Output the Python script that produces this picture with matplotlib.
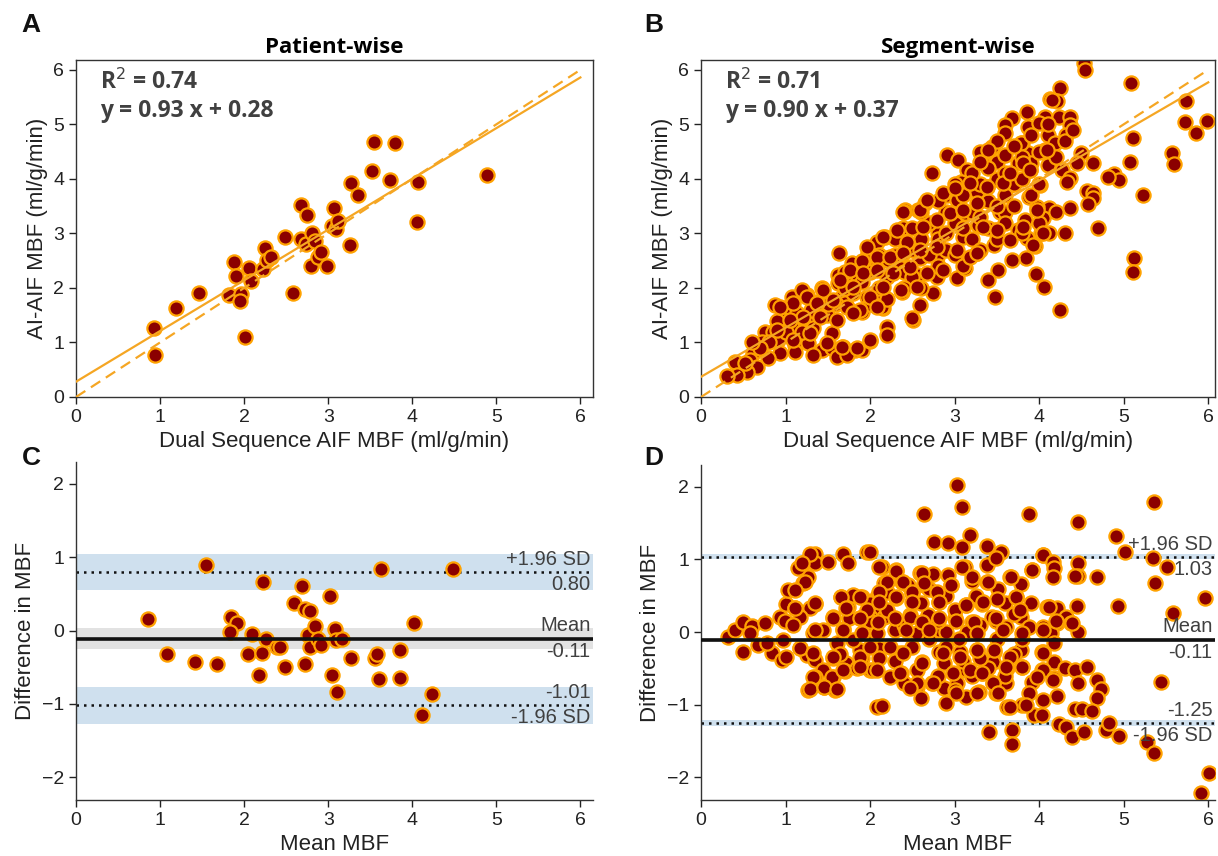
import matplotlib
matplotlib.use("Agg")
import matplotlib.pyplot as plt
import matplotlib.transforms as mtransforms
import numpy as np

# ---------------- DATA ----------------
# Panel A: patient-wise (Dual Sequence AIF MBF, AI-AIF MBF)
a_x = [0.93, 0.94, 1.19, 1.46, 1.82, 1.88, 1.90, 1.96, 1.95, 2.06, 2.08, 2.01, 2.22, 2.25,
       2.27, 2.32, 2.49, 2.58, 2.68, 2.68, 2.75, 2.74, 2.81, 2.84, 2.79, 2.88, 2.92, 2.99,
       3.04, 3.07, 3.09, 3.12, 3.26, 3.27, 3.36, 3.52, 3.55, 3.73, 3.80, 4.06, 4.07, 4.89]
a_y = [1.27, 0.77, 1.64, 1.91, 1.87, 2.48, 2.22, 1.88, 1.76, 2.37, 2.13, 1.10, 2.35, 2.74,
       2.51, 2.56, 2.94, 1.91, 3.52, 2.89, 3.33, 2.80, 3.01, 2.86, 2.41, 2.57, 2.65, 2.40,
       3.14, 3.46, 3.08, 3.23, 2.78, 3.93, 3.71, 4.15, 4.67, 3.98, 4.65, 3.21, 3.95, 4.07]

# Panel B: segment-wise
b_x = [4.53, 4.54, 5.09, 4.25, 4.13, 4.21, 5.74, 3.86, 4.07, 4.24, 4.36, 3.87, 4.00, 4.36,
       5.73, 5.98, 5.86, 4.11, 4.32, 5.11, 3.80, 4.19, 4.07, 3.87, 4.49, 5.57, 5.59, 4.64,
       5.07, 4.45, 4.11, 3.89, 4.27, 4.88, 4.95, 4.82, 4.37, 4.33, 4.01, 5.23, 4.57, 4.64,
       4.64, 4.58, 3.88, 4.36, 4.12, 3.98, 4.05, 3.83, 4.70, 4.02, 4.12, 3.86, 3.95, 3.85,
       5.12, 5.11, 3.96, 4.06, 4.25,
       4.15, 3.68, 3.60, 3.60, 2.91, 3.04, 3.40, 3.44, 3.33, 3.15, 3.50, 3.60, 3.78, 2.73,
       3.75, 3.07, 3.38, 3.66, 3.27, 2.91, 2.65, 2.41, 2.57, 3.03, 3.12, 3.54, 3.28, 3.60,
       2.63, 2.39, 2.18, 2.41, 2.80, 3.10, 3.48, 3.75, 3.46, 3.93, 3.68, 3.27, 3.03, 2.79,
       2.59, 2.21, 2.36, 2.57, 2.79, 3.03, 3.12, 3.51, 3.40, 3.48, 2.75, 2.59, 2.38, 2.51,
       2.20, 2.20, 2.15,
       2.40, 2.08, 1.98, 1.63, 1.79, 1.91, 2.08, 2.21, 1.62, 1.74, 1.86, 1.62, 1.43, 1.79,
       1.96, 2.12, 1.25, 1.38, 1.67, 1.70, 1.91, 2.14, 2.50, 0.88, 1.03, 1.08, 1.20, 1.14,
       0.97, 1.20, 1.35, 1.49, 0.76, 0.85, 1.08, 1.33, 1.55, 0.72, 0.91, 1.11, 1.27, 1.43,
       1.55, 1.68, 1.82, 1.91, 2.00, 1.61, 1.73, 1.33, 1.11, 0.93, 0.79, 0.62, 0.58, 0.40,
       0.66, 0.54, 0.43, 0.31, 0.52,
       2.30, 2.40, 2.50, 2.60, 2.70, 2.80, 2.90, 3.00, 3.10, 3.20, 3.30, 3.40, 3.50, 3.60,
       3.70, 3.80, 2.20, 2.00, 2.10, 1.90, 1.80, 1.70, 1.60, 1.50, 1.40, 1.30, 1.20, 1.00,
       0.90, 0.80, 0.70, 0.60, 2.50, 2.60, 2.80, 2.90, 3.00, 3.20, 3.30, 3.40, 3.60, 3.70,
       3.90, 3.90, 4.00, 3.50, 3.30, 3.10, 2.90, 2.70, 2.50, 2.30, 2.10, 1.90, 1.70, 2.60,
       2.80, 3.00, 3.20, 3.40, 3.60, 3.80, 4.00, 4.20, 4.30, 4.40, 4.10, 3.90, 3.70, 3.50,
       3.30, 2.40, 2.20, 2.00, 3.10, 3.50, 3.80, 4.00, 4.20, 4.30,
       3.30, 3.40, 2.39, 2.59, 2.67, 2.86, 3.01, 3.18, 3.38, 3.57, 3.66, 3.81, 3.89, 4.09,
       2.15, 2.32, 2.44, 2.63, 2.79, 2.95, 3.10, 3.27, 3.34, 3.50, 3.66, 3.81, 3.98, 4.05,
       1.96, 2.08, 2.24, 2.39, 2.59, 2.79, 3.03, 3.18, 3.27, 1.76, 1.92, 2.08, 2.27, 2.47,
       2.67, 2.86, 1.64, 1.80, 2.00, 2.15, 2.36, 2.56, 1.44, 1.25, 1.09, 0.93, 1.37, 1.56,
       1.73, 1.88, 2.08, 1.21, 1.05, 1.41, 1.61, 1.80, 0.90, 1.09, 1.29, 1.49, 1.67, 1.85,
       2.00]
b_y = [6.12, 6.00, 5.76, 5.67, 5.47, 5.43, 5.43, 5.23, 5.14, 5.14, 5.14, 4.95, 5.03, 4.99,
       5.05, 5.06, 4.84, 4.81, 4.81, 4.75, 4.66, 4.66, 4.53, 4.48, 4.48, 4.48, 4.28, 4.29,
       4.31, 4.29, 4.26, 4.17, 4.17, 4.09, 3.98, 4.04, 4.02, 3.95, 3.89, 3.71, 3.78, 3.74,
       3.65, 3.54, 3.67, 3.47, 3.47, 3.49, 3.28, 3.25, 3.10, 3.01, 3.01, 2.92, 2.77, 2.55,
       2.55, 2.29, 2.26, 2.02, 1.60,
       5.45, 5.12, 4.99, 4.84, 4.44, 4.35, 4.50, 4.59, 4.29, 4.17, 4.31, 4.44, 4.66, 4.11,
       4.29, 3.95, 3.85, 3.89, 3.76, 3.71, 3.56, 3.43, 3.43, 3.61, 3.38, 3.40, 3.16, 3.40,
       3.12, 3.10, 2.94, 2.84, 3.01, 2.94, 3.06, 3.06, 2.79, 2.79, 2.51, 2.64, 2.62, 2.57,
       2.55, 2.55, 2.37, 2.24, 2.20, 2.18, 2.37, 2.33, 2.15, 1.83, 1.91, 1.69, 1.93, 1.41,
       1.28, 1.14, 1.63,
       3.39, 2.84, 2.64, 2.64, 2.46, 2.39, 2.42, 2.51, 2.24, 2.24, 2.15, 2.09, 2.00, 2.02,
       1.83, 1.93, 1.87, 1.74, 1.83, 1.72, 1.56, 1.65, 1.45, 1.69, 1.65, 1.83, 1.96, 1.54,
       1.41, 1.41, 1.47, 1.50, 1.19, 1.19, 1.28, 1.27, 1.17, 1.01, 1.05, 0.95, 0.99, 0.86,
       0.90, 0.92, 0.86, 0.86, 1.03, 0.73, 0.77, 0.77, 0.83, 0.81, 0.72, 0.81, 0.68, 0.64,
       0.55, 0.46, 0.40, 0.39, 0.62,
       2.60, 2.30, 2.70, 2.90, 2.60, 2.90, 3.00, 3.20, 3.10, 3.40, 3.30, 3.60, 3.50, 3.70,
       3.90, 4.00, 2.20, 2.30, 2.00, 2.10, 1.90, 2.00, 1.70, 1.70, 1.50, 1.60, 1.20, 1.20,
       1.40, 1.00, 0.90, 1.00, 2.20, 2.00, 2.40, 2.70, 2.60, 2.90, 2.70, 3.10, 3.20, 3.50,
       3.70, 4.30, 4.50, 4.00, 3.90, 3.70, 3.40, 3.20, 3.10, 2.90, 2.60, 2.50, 2.30, 3.40,
       3.60, 3.90, 4.10, 4.20, 4.10, 4.40, 3.90, 4.40, 4.70, 4.90, 5.00, 4.80, 4.60, 4.70,
       4.50, 2.00, 1.80, 1.70, 2.40, 2.90, 3.00, 3.20, 3.40, 3.00,
       4.31, 4.53, 3.39, 3.43, 3.61, 3.74, 3.83, 3.92, 3.86, 3.92, 4.11, 4.29, 4.17, 4.53,
       2.94, 3.06, 2.84, 3.12, 3.25, 3.38, 3.43, 3.56, 3.12, 3.06, 2.88, 3.12, 3.43, 3.01,
       2.75, 2.57, 2.57, 2.64, 2.70, 2.75, 2.70, 2.57, 2.64, 2.33, 2.28, 2.33, 2.28, 2.39,
       2.28, 2.33, 2.15, 2.02, 1.83, 2.02, 1.96, 2.02, 1.96, 1.83, 1.72, 1.65, 1.72, 1.78,
       1.65, 1.60, 1.65, 1.47, 1.41, 1.47, 1.41, 1.54, 1.23, 1.05, 1.17, 0.99, 0.92, 0.90,
       1.05]

# Panel C: patient-wise Bland-Altman (mean, difference)
c_mean = [0.86, 1.08, 1.41, 1.68, 1.55, 1.84, 1.91, 1.83, 2.09, 2.05, 2.21, 2.18, 2.23, 2.26,
          2.39, 2.43, 2.49, 2.59, 2.69, 2.72, 2.78, 2.72, 2.76, 2.78, 2.84, 2.88, 2.91, 3.02,
          3.05, 3.08, 3.09, 3.10, 3.17, 3.27, 3.56, 3.58, 3.60, 3.63, 3.85, 3.85, 4.02, 4.11,
          4.24, 4.49]
c_diff = [0.16, -0.32, -0.43, -0.45, 0.89, 0.18, 0.11, -0.02, -0.04, -0.32, -0.30, -0.61, 0.67,
          -0.11, -0.23, -0.22, -0.49, 0.38, 0.61, 0.30, 0.27, -0.45, -0.06, -0.22, 0.06, -0.12,
          -0.20, 0.47, -0.61, 0.02, -0.13, -0.84, -0.12, -0.37, -0.37, -0.32, -0.66, 0.84,
          -0.26, -0.64, 0.10, -1.15, -0.86, 0.84]
c_stats = {"mean": -0.11, "upper": 0.80, "lower": -1.01}
c_bands = {"upper": (0.55, 1.05), "mean": (-0.25, 0.03), "lower": (-1.27, -0.77)}

# Panel D: segment-wise Bland-Altman
d_mean = [0.32, 0.40, 0.50, 0.60, 0.76, 0.50, 0.67, 0.84, 0.96, 1.01, 0.93, 0.99, 1.01, 1.11,
          1.03, 1.21, 1.26, 1.15, 1.23, 1.35, 1.35, 1.50, 1.68, 1.74, 1.96, 1.35, 1.29, 1.17,
          1.09, 1.17, 1.25, 1.35, 1.32, 1.44, 1.56, 1.66, 1.74, 1.80, 1.90, 1.88, 1.68, 1.61,
          1.56, 1.44, 1.35, 1.26, 1.46, 1.58, 1.56, 1.72, 1.70, 1.85, 1.88, 2.00, 2.08, 2.08,
          2.08, 1.80, 2.00, 0.97, 0.78, 0.58,
          3.03, 3.09, 2.64, 3.88, 2.76, 2.92, 3.18, 3.09, 3.38, 3.55, 4.04, 2.00, 2.14, 2.31,
          2.59, 2.74, 2.92, 3.12, 3.38, 3.49, 3.65, 3.91, 3.79, 3.73, 4.09, 3.79, 2.17, 2.38,
          2.64, 2.96, 3.20, 3.38, 3.51, 2.08, 2.31, 2.50, 2.82, 3.14, 3.32, 2.17, 2.47, 2.68,
          3.00, 3.21, 3.44, 3.49, 3.61, 3.88, 4.04, 2.29, 2.56, 2.82, 2.90, 3.15, 2.08, 2.11,
          2.35, 2.62, 2.82, 3.06, 3.26, 3.47, 3.79, 4.03, 2.03, 2.23, 2.37, 2.56, 2.88, 3.14,
          3.32, 3.45, 3.62, 3.80, 4.03, 2.55, 2.73, 2.88, 3.03, 3.14, 3.29, 3.49, 3.61, 3.91,
          3.88, 2.14, 2.90, 3.62, 3.80, 3.94, 3.41, 3.68, 3.68, 2.00, 2.00,
          5.36, 4.46, 4.91, 5.01, 4.04, 4.16, 4.18, 4.16, 4.46, 4.46, 4.42, 4.69, 5.35, 5.51,
          5.37, 5.96, 5.58, 4.93, 4.45, 4.12, 4.21, 4.32, 4.21, 4.38, 4.46, 4.14, 4.18, 4.04,
          4.18, 4.30, 4.42, 4.56, 4.04, 4.18, 4.46, 4.68, 4.73, 4.69, 4.21, 4.04, 4.42, 4.51,
          4.62, 4.03, 4.24, 4.32, 4.39, 4.53, 4.79, 4.83, 4.95, 5.28, 5.36, 5.44, 6.01, 5.91,
          2.20, 2.40, 2.60, 2.70, 2.90, 3.00, 3.10, 3.30, 3.50, 3.60, 3.70, 3.90, 2.30, 2.50,
          2.70, 2.90, 3.20, 3.40, 3.60, 3.80, 2.10, 2.40, 2.60, 2.80, 3.00, 3.30, 3.50, 2.20,
          2.45, 2.80, 3.05, 3.25, 3.45, 3.70, 1.90, 2.00, 1.75, 1.65,
          1.29, 1.19, 2.11, 2.31, 2.61, 3.09, 3.20, 3.39, 3.67, 3.91, 1.23, 1.11, 2.20, 2.39,
          2.64, 2.96, 2.79, 2.49, 2.11, 1.66, 1.88, 1.35, 1.11, 1.72, 1.96, 2.11, 2.31, 2.50,
          2.82, 3.14, 3.33, 3.49, 3.73, 3.77, 4.12, 4.20, 4.39, 1.56, 1.88, 2.09, 2.29, 2.47,
          2.62, 2.82, 3.02, 3.23, 2.43, 2.70, 1.68, 1.35, 1.91, 3.26, 3.57, 3.80, 4.04, 1.17,
          1.32, 1.56, 1.88, 2.00, 2.23, 2.39, 2.62, 2.86, 3.06, 3.26, 3.47, 3.65, 3.80, 4.04,
          1.32, 1.55, 1.68, 1.88, 2.08, 2.35, 2.55, 2.74, 2.98, 3.18, 3.32, 3.45, 3.61, 3.97,
          4.16, 1.29, 1.46, 1.61, 2.47, 3.02, 3.26, 3.51, 3.65, 3.85]
d_diff = [-0.07, 0.03, 0.14, 0.08, 0.12, -0.27, -0.18, -0.29, -0.38, -0.34, 0.21, 0.16, 0.39,
          0.33, 0.58, 0.67, 0.76, 0.88, 0.96, 1.08, 0.95, 0.96, 1.08, 0.95, 1.10, 0.39, 0.33,
          0.21, 0.10, -0.22, -0.32, -0.38, -0.01, 0.03, 0.21, 0.48, 0.34, 0.51, 0.48, 0.19,
          0.05, -0.15, -0.36, -0.52, -0.62, -0.80, -0.75, -0.80, -0.62, -0.43, -0.54, -0.50,
          -0.25, -0.52, -1.03, 0.48, 0.26, -0.11, -0.01, -0.11, -0.15, -0.01,
          2.03, 1.72, 1.63, 1.62, 1.24, 1.22, 1.33, 1.17, 1.18, 1.10, 1.06, 1.10, 0.89, 0.85,
          0.82, 0.80, 0.78, 0.89, 0.92, 1.02, 0.76, 0.85, 0.66, 0.49, 0.34, 0.21, 0.67, 0.69,
          0.65, 0.65, 0.71, 0.69, 0.60, 0.47, 0.47, 0.54, 0.41, 0.37, 0.39, 0.21, 0.23, 0.23,
          0.19, 0.14, 0.21, 0.16, 0.07, 0.07, 0.07, 0.03, -0.01, 0.03, 0.00, 0.00, -0.01,
          -0.22, -0.29, -0.41, -0.27, -0.27, -0.25, -0.27, -0.25, -0.27, -0.52, -0.62, -0.56,
          -0.52, -0.43, -0.52, -0.56, -0.41, -0.49, -0.48, -0.52, -0.75, -0.70, -0.77, -0.70,
          -0.89, -0.82, -0.84, -0.70, -0.69, -0.84, -1.02, -0.98, -1.03, -1.00, -1.14, -1.37,
          -1.35, -1.54, 0.40, 0.21,
          1.79, 1.51, 1.32, 1.10, 1.06, 0.96, 0.88, 0.76, 0.95, 0.77, 0.77, 0.76, 1.02, 0.89,
          0.67, 0.47, 0.27, 0.36, 0.36, 0.34, 0.33, 0.21, 0.12, 0.12, 0.00, -0.01, -0.15, -0.27,
          -0.41, -0.49, -0.52, -0.48, -0.52, -0.63, -0.70, -0.66, -0.78, -0.91, -0.88, -0.93,
          -1.06, -1.06, -1.08, -1.14, -1.26, -1.30, -1.44, -1.37, -1.35, -1.25, -1.43, -1.51,
          -1.66, -0.69, -1.94, -2.21,
          0.30, 0.10, 0.40, -0.10, -0.20, 0.30, -0.40, 0.10, -0.10, 0.40, -0.30, 0.40, -0.40,
          -0.20, 0.60, 0.50, -0.60, -0.50, -0.60, -0.10, -0.35, -0.70, -0.90, -0.60, -0.80,
          -0.35, 0.45, 0.55, 0.65, 0.15, -0.10, 0.50, -0.70, 0.25, -0.35, 0.15, 0.20, -0.30,
          1.08, 0.95, 0.89, 0.84, 0.82, 0.89, 0.76, 0.69, 0.76, 0.85, 0.69, 0.58, 0.69, 0.69,
          0.67, 0.65, 0.55, 0.55, 0.55, 0.48, 0.48, 0.40, 0.33, 0.33, 0.30, 0.41, 0.48, 0.41,
          0.41, 0.37, 0.41, 0.19, 0.48, 0.30, 0.34, 0.16, 0.12, 0.19, 0.19, 0.14, 0.19, 0.21,
          0.14, 0.19, 0.16, 0.14, 0.03, 0.03, 0.03, 0.03, -0.01, -0.01, 0.03, -0.01, 0.03, -0.22,
          -0.29, -0.34, -0.34, -0.20, -0.20, -0.29, -0.43, -0.29, -0.34, -0.25, -0.25, -0.34,
          -0.48, -0.29,
          -0.62, -0.62, -0.52, -0.48, -0.52, -0.56, -0.70, -0.70, -0.56, -0.52, -0.56, -0.70,
          -0.48, -0.62, -0.66, -0.78, -0.75, -0.78, -0.77, -0.84, -0.84, -0.84, -1.03, -1.00]
d_stats = {"mean": -0.11, "upper": 1.03, "lower": -1.25}
d_bands = {"upper": (1.00, 1.07), "mean": (-0.14, -0.08), "lower": (-1.29, -1.21)}

fits = {"A": (0.93, 0.28, 0.74), "B": (0.90, 0.37, 0.71)}
ticks_x = [0, 1, 2, 3, 4, 5, 6]

# ---------------- STYLE ----------------
FACE = "#8b0000"
EDGE = "#ffa200"
LINE = "#f5a623"
BLUE = "#cfe0ee"
GREY_BAND = "#e2e2e2"
TXT = "#404040"
plt.rcParams["font.family"] = ["Liberation Sans", "DejaVu Sans"]

W, H = 1218, 856
fig = plt.figure(figsize=(W / 100, H / 100), dpi=100)


def px_axes(left, top, right, bottom):
    return fig.add_axes([left / W, 1 - bottom / H, (right - left) / W, (bottom - top) / H])


def style_ticks(ax):
    ax.tick_params(axis="both", labelsize=14, length=5, width=1, direction="out",
                   colors="#222222")
    for s in ax.spines.values():
        s.set_linewidth(1.0)
        s.set_color("#333333")


def scatter_panel(ax, x, y, key, title):
    slope, icpt, r2 = fits[key]
    xs = np.array([0, 6])
    ax.plot(xs, xs, ls=(0, (5, 3)), color=LINE, lw=1.6, zorder=3)
    ax.plot(xs, slope * xs + icpt, ls="-", color=LINE, lw=1.6, zorder=3)
    ax.scatter(x, y, s=105, c=FACE, edgecolors=EDGE, linewidths=1.6, zorder=2, clip_on=True)
    ax.set_ylim(0, 6.18)
    ax.set_xticks(ticks_x)
    ax.set_yticks(ticks_x)
    ax.set_xlabel("Dual Sequence AIF MBF (ml/g/min)", fontsize=16, color="#222222", labelpad=4)
    ax.set_ylabel("AI-AIF MBF (ml/g/min)", fontsize=16, color="#222222", labelpad=4)
    ax.set_title(title, fontsize=16, fontweight="bold", family=["Open Sans", "DejaVu Sans"],
                 pad=5)
    ax.text(0.046, 0.935, r"R$^2$ = %.2f" % r2, transform=ax.transAxes, fontsize=16.5,
            fontweight="bold", color=TXT, va="center", family=["Open Sans", "DejaVu Sans"])
    ax.text(0.046, 0.848, "y = %.2f x + %.2f" % (slope, icpt), transform=ax.transAxes,
            fontsize=16.5, fontweight="bold", color=TXT, va="center",
            family=["Open Sans", "DejaVu Sans"])
    style_ticks(ax)


def ba_panel(ax, m, d, stats, bands):
    for k in ("upper", "lower"):
        ax.axhspan(*bands[k], color=BLUE, lw=0, zorder=0)
    ax.axhspan(*bands["mean"], color=GREY_BAND, lw=0, zorder=0)
    ax.axhline(stats["upper"], color="#111111", ls=(0, (1, 2)), lw=1.8, zorder=1)
    ax.axhline(stats["lower"], color="#111111", ls=(0, (1, 2)), lw=1.8, zorder=1)
    ax.axhline(stats["mean"], color="#111111", ls="-", lw=2.6, zorder=3)
    ax.scatter(m, d, s=105, c=FACE, edgecolors=EDGE, linewidths=1.6, zorder=2)
    tr = mtransforms.blended_transform_factory(ax.transAxes, ax.transData)
    kw = dict(transform=tr, ha="right", fontsize=14.5, color=TXT, zorder=4)
    ax.text(0.995, stats["upper"] + 0.04, "+1.96 SD", va="bottom", **kw)
    ax.text(0.995, stats["upper"] - 0.04, "%.2f" % stats["upper"], va="top", **kw)
    ax.text(0.995, stats["mean"] + 0.05, "Mean", va="bottom", **kw)
    ax.text(0.995, stats["mean"] - 0.04, "%.2f" % stats["mean"], va="top", **kw)
    ax.text(0.995, stats["lower"] + 0.04, "%.2f" % stats["lower"], va="bottom", **kw)
    ax.text(0.995, stats["lower"] - 0.04, "-1.96 SD", va="top", **kw)
    ax.set_ylim(-2.31, 2.3)
    ax.set_yticks([-2, -1, 0, 1, 2])
    ax.set_xticks(ticks_x)
    ax.set_xlabel("Mean MBF", fontsize=16, color="#222222", labelpad=4)
    ax.set_ylabel("Difference in MBF", fontsize=16, color="#222222", labelpad=4)
    ax.spines["top"].set_visible(False)
    ax.spines["right"].set_visible(False)
    style_ticks(ax)


axA = px_axes(76, 60, 593, 397)
scatter_panel(axA, a_x, a_y, "A", "Patient-wise")
axA.set_xlim(0, 6.15)

axB = px_axes(701, 60, 1215, 397)
scatter_panel(axB, b_x, b_y, "B", "Segment-wise")
axB.set_xlim(0, 6.08)

axC = px_axes(76, 462, 593, 800)
ba_panel(axC, c_mean, c_diff, c_stats, c_bands)
axC.set_xlim(0, 6.15)

axD = px_axes(701, 465, 1215, 800)
ba_panel(axD, d_mean, d_diff, d_stats, d_bands)
axD.set_xlim(0, 6.08)

for lab, (px, py) in {"A": (31, 25), "B": (654, 25), "C": (31, 458), "D": (654, 458)}.items():
    fig.text(px / W, 1 - py / H, lab, fontsize=19, fontweight="bold", ha="center",
             va="center", color="#111111")

fig.savefig("out.png", dpi=100)
